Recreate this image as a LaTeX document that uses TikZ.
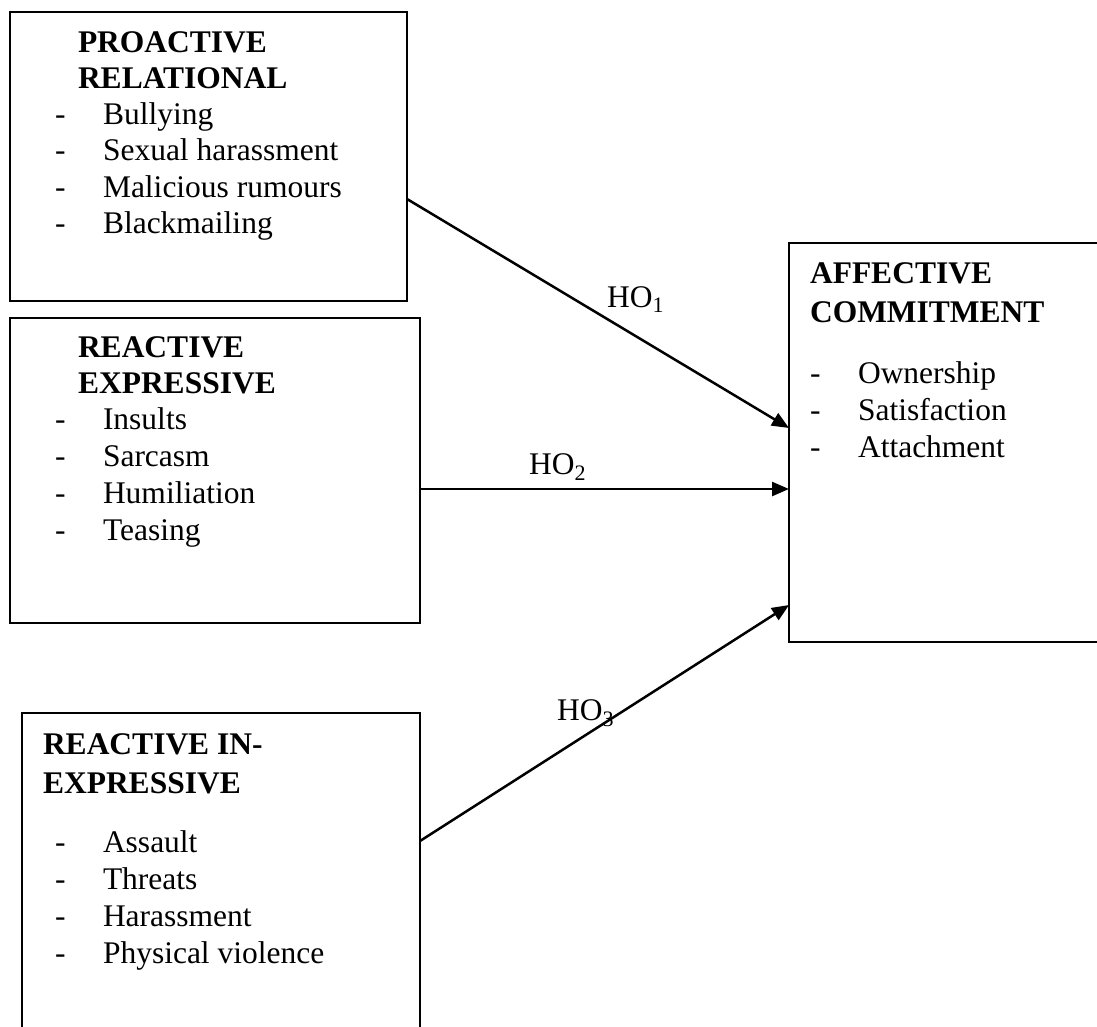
\documentclass[tikz,border=0pt]{standalone}
\usepackage{fontspec}
\setmainfont{Liberation Serif}
\usetikzlibrary{arrows.meta}
\begin{document}
\begin{tikzpicture}[x=1pt,y=-1pt,
  box/.style={draw, line width=2.5pt, inner sep=0pt, outer sep=0pt, anchor=north west},
  txt/.style={anchor=base west, inner sep=0pt, outer sep=0pt, font=\fontsize{31.5}{36}\selectfont},
  ttl/.style={anchor=base west, inner sep=0pt, outer sep=0pt, font=\fontsize{31.5}{36}\selectfont\bfseries},
  arr/.style={line width=2.5pt, -{Triangle[length=17pt,width=14pt]}}]
\useasboundingbox (0,0) rectangle (1097,1026);
\clip (0,0) rectangle (1097,1026);
% boxes
\node[box, minimum width=397pt, minimum height=289pt] (b1) at (10,12) {};
\node[box, minimum width=410pt, minimum height=305pt] (b2) at (10,318) {};
\node[box, minimum width=398pt, minimum height=340pt] (b3) at (22,713) {};
\node[box, minimum width=330pt, minimum height=399pt] (b4) at (789,243) {};
% box 1 text
\node[ttl] (t1a) at (78,52) {PROACTIVE};
\node[ttl] (t1b) at (78,88) {RELATIONAL};
\node[txt] (d1a) at (55,124) {-};
\node[txt] (i1a) at (103,124) {Bullying};
\node[txt] (d1b) at (55,160) {-};
\node[txt] (i1b) at (103,160) {Sexual harassment};
\node[txt] (d1c) at (55,197) {-};
\node[txt] (i1c) at (103,197) {Malicious rumours};
\node[txt] (d1d) at (55,233) {-};
\node[txt] (i1d) at (103,233) {Blackmailing};
% box 2 text
\node[ttl] (t2a) at (78,357) {REACTIVE};
\node[ttl] (t2b) at (78,393) {EXPRESSIVE};
\node[txt] (d2a) at (55,429) {-};
\node[txt] (i2a) at (103,429) {Insults};
\node[txt] (d2b) at (55,466) {-};
\node[txt] (i2b) at (103,466) {Sarcasm};
\node[txt] (d2c) at (55,503) {-};
\node[txt] (i2c) at (103,503) {Humiliation};
\node[txt] (d2d) at (55,540) {-};
\node[txt] (i2d) at (103,540) {Teasing};
% box 3 text
\node[ttl] (t3a) at (43,754) {REACTIVE IN-};
\node[ttl] (t3b) at (43,793) {EXPRESSIVE};
\node[txt] (d3a) at (55,852) {-};
\node[txt] (i3a) at (103,852) {Assault};
\node[txt] (d3b) at (55,889) {-};
\node[txt] (i3b) at (103,889) {Threats};
\node[txt] (d3c) at (55,926) {-};
\node[txt] (i3c) at (103,926) {Harassment};
\node[txt] (d3d) at (55,963) {-};
\node[txt] (i3d) at (103,963) {Physical violence};
% box 4 text
\node[ttl] (t4a) at (810,283) {AFFECTIVE};
\node[ttl] (t4b) at (810,322) {COMMITMENT};
\node[txt] (d4a) at (810,383) {-};
\node[txt] (i4a) at (858,383) {Ownership};
\node[txt] (d4b) at (810,420) {-};
\node[txt] (i4b) at (858,420) {Satisfaction};
\node[txt] (d4c) at (810,457) {-};
\node[txt] (i4c) at (858,457) {Attachment};
% connectors
\draw[arr] (b1.east |- 0,199) -- (b4.west |- 0,428);
\draw[arr] (b2.east |- 0,489) -- (b4.west |- 0,489);
\draw[arr] (b3.east |- 0,841) -- (b4.west |- 0,605);
% labels
\node[txt] (h1) at (607,307) {HO\textsubscript{1}};
\node[txt] (h2) at (529,474) {HO\textsubscript{2}};
\node[txt] (h3) at (557,720) {HO\textsubscript{3}};
\end{tikzpicture}
\end{document}
